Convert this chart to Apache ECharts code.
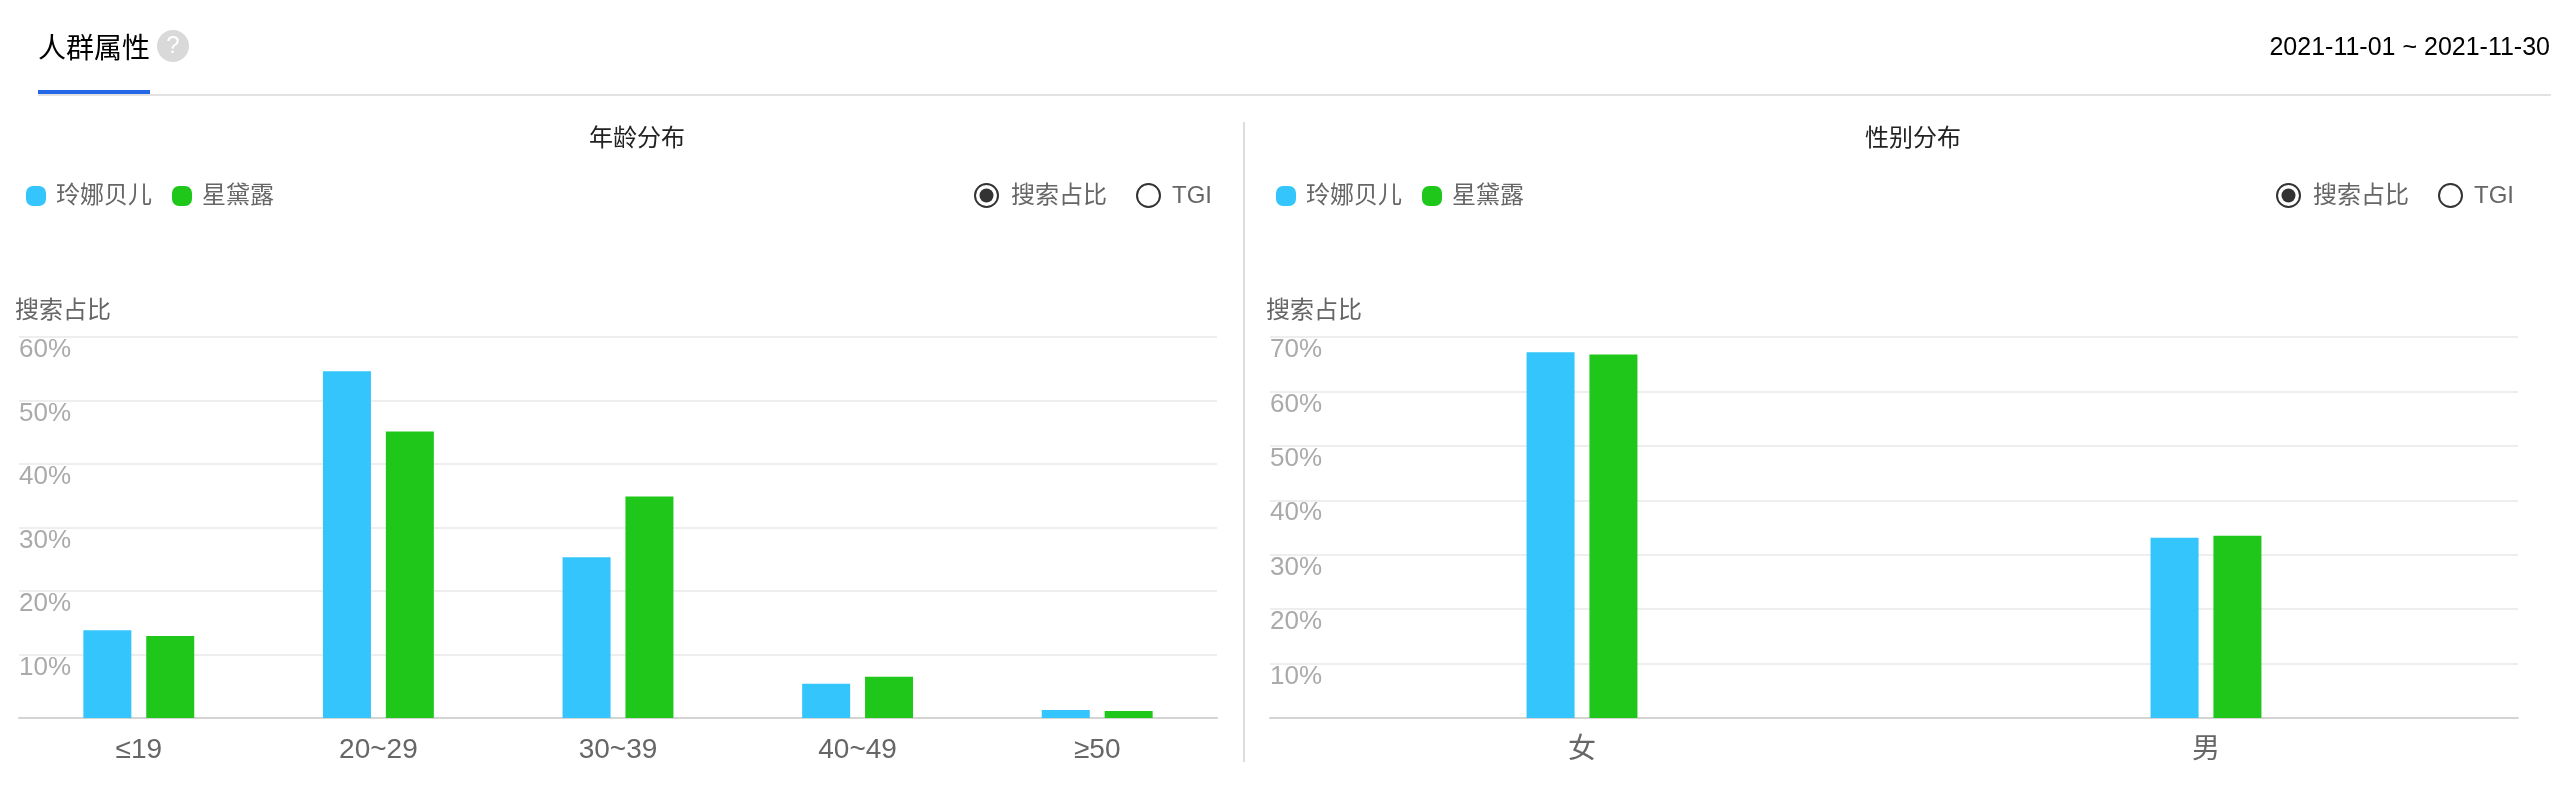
<!DOCTYPE html>
<html><head><meta charset="utf-8">
<style>html,body{margin:0;padding:0;background:#fff}#c{width:2574px;height:790px}</style>
<script src="https://cdn.jsdelivr.net/npm/echarts@6/dist/echarts.min.js"></script>
</head><body><div id="c"></div>
<script>
const FONT = '"Liberation Sans","Noto Sans CJK SC",sans-serif';
const seriesNames = ['玲娜贝儿', '星黛露'];
const ageCategories = ['≤19', '20~29', '30~39', '40~49', '≥50'];
const ageBlue = [13.8, 54.6, 25.3, 5.4, 1.25];
const ageGreen = [12.9, 45.1, 34.9, 6.5, 1.1];
const genderCategories = ['女', '男'];
const genderBlue = [67.2, 33.1];
const genderGreen = [66.8, 33.5];
const BLUE = '#33c5fb', GREEN = '#1fc71b';
const MARKER = 'path://M7 0H13A7 7 0 0 1 20 7V13A7 7 0 0 1 13 20H7A7 7 0 0 1 0 13V7A7 7 0 0 1 7 0Z';

function xAxis(idx, data) {
  return { type: 'category', gridIndex: idx, data,
    axisTick: {show: false},
    axisLine: {lineStyle: {color: '#d4d4d4', width: 2}},
    axisLabel: {color: '#666', fontSize: 28, fontFamily: FONT, margin: 18, interval: 0} };
}
function yAxis(idx, max) {
  return { type: 'value', gridIndex: idx, min: 0, max, interval: 10,
    name: '搜索占比', nameLocation: 'end', nameGap: 26,
    nameTextStyle: {color: '#666', fontSize: 24, fontFamily: FONT, align: 'left', verticalAlign: 'middle', padding: [0,0,0,-4]},
    axisLine: {show: false}, axisTick: {show: false},
    splitLine: {lineStyle: {color: '#eeeeee', width: 2}},
    axisLabel: {inside: true, margin: 0, color: '#aaaaaa', fontSize: 26, fontFamily: FONT,
      verticalAlign: 'top', showMinLabel: false, formatter: '{value}%', showMaxLabel: true} };
}
function bar(name, color, idx, data) {
  return { type: 'bar', name, xAxisIndex: idx, yAxisIndex: idx, data,
    barWidth: 48, barGap: '31%', itemStyle: {color}, silent: true };
}
function legend(left) {
  return { left, top: 184, itemWidth: 20, itemHeight: 20, itemGap: 20, icon: MARKER, padding: 0,
    data: seriesNames, selectedMode: false,
    textStyle: {color: '#666', fontSize: 24, fontFamily: FONT, padding: [0,0,0,5]} };
}
function radio(cx, tx, label, on) {
  const els = [{ type: 'circle', shape: {cx, cy: 195.5, r: 11.5}, style: {fill: '#fff', stroke: '#333', lineWidth: 2} }];
  if (on) els.push({ type: 'circle', shape: {cx, cy: 195.5, r: 7}, style: {fill: '#333'} });
  els.push({ type: 'text', x: tx, y: 196, style: {text: label, fill: '#666', fontSize: 24, fontFamily: FONT, align: 'left', verticalAlign: 'middle'} });
  return els;
}
const option = {
  backgroundColor: '#fff', animation: false,
  title: [
    {text: '人群属性', left: 38, top: 36, padding: 0, textStyle: {color: '#000', fontSize: 28, fontWeight: 'normal', fontFamily: FONT}},
    {text: '2021-11-01 ~ 2021-11-30', right: 24, top: 36, padding: 0, textStyle: {color: '#000', fontSize: 25, fontWeight: 'normal', fontFamily: FONT}},
    {text: '年龄分布', left: 637, textAlign: 'center', top: 127, padding: 0, textStyle: {color: '#222', fontSize: 24, fontWeight: 'normal', fontFamily: FONT}},
    {text: '性别分布', left: 1913, textAlign: 'center', top: 127, padding: 0, textStyle: {color: '#222', fontSize: 24, fontWeight: 'normal', fontFamily: FONT}}
  ],
  legend: [legend(26), legend(1276)],
  grid: [
    {left: 19, top: 337, width: 1198, height: 381},
    {left: 1270, top: 337, width: 1248, height: 381}
  ],
  xAxis: [xAxis(0, ageCategories), xAxis(1, genderCategories)],
  yAxis: [yAxis(0, 60), yAxis(1, 70)],
  series: [
    bar(seriesNames[0], BLUE, 0, ageBlue), bar(seriesNames[1], GREEN, 0, ageGreen),
    bar(seriesNames[0], BLUE, 1, genderBlue), bar(seriesNames[1], GREEN, 1, genderGreen)
  ],
  graphic: [
    {type: 'rect', shape: {x: 38, y: 94, width: 2513, height: 2}, style: {fill: '#e2e2e2'}},
    {type: 'rect', shape: {x: 38, y: 90, width: 112, height: 4}, style: {fill: '#2468e8'}},
    {type: 'rect', shape: {x: 1243, y: 122, width: 2, height: 640}, style: {fill: '#dddddd'}},
    {type: 'circle', shape: {cx: 173, cy: 46, r: 16}, style: {fill: '#d9d9d9'}},
    {type: 'text', x: 173, y: 46, style: {text: '?', fill: '#fff', fontSize: 24, fontFamily: FONT, align: 'center', verticalAlign: 'middle'}},
    ...radio(986.5, 1011, '搜索占比', true),
    ...radio(1148.5, 1172, 'TGI', false),
    ...radio(2288.5, 2313, '搜索占比', true),
    ...radio(2450.5, 2474, 'TGI', false)
  ]
};
echarts.init(document.getElementById('c'), null, {renderer: 'canvas'}).setOption(option);
</script></body></html>
